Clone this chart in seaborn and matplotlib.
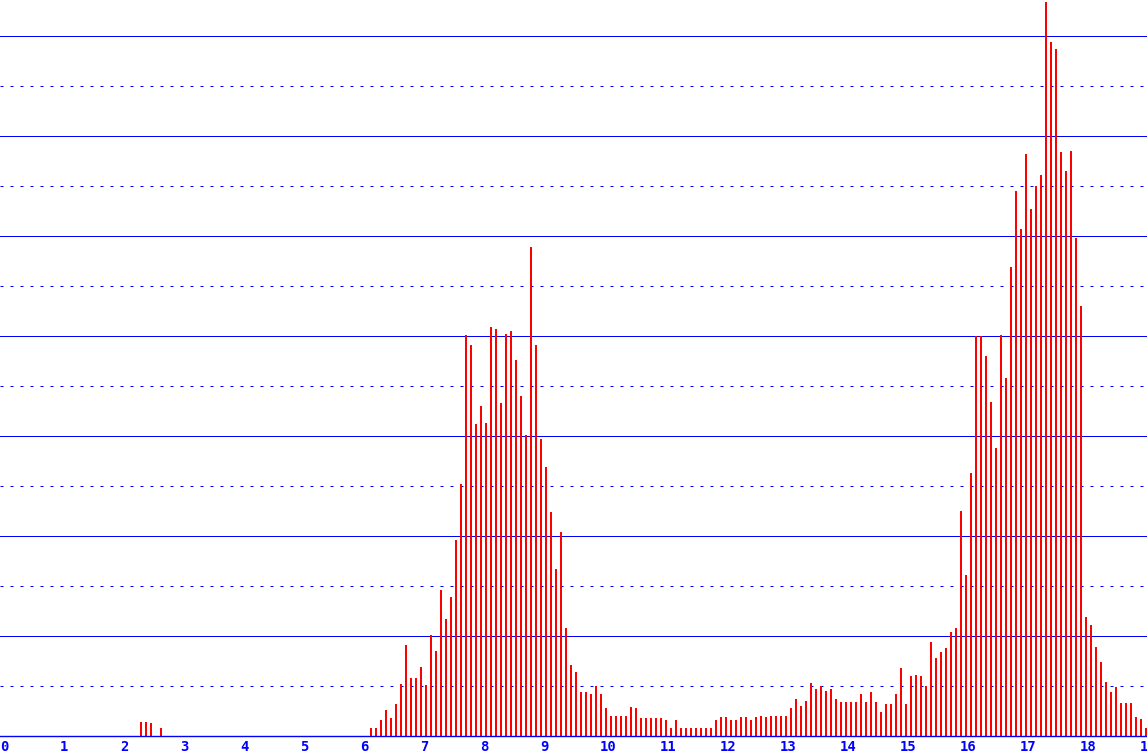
import numpy as np
import pandas as pd
import matplotlib
matplotlib.use("Agg")
import matplotlib.pyplot as plt
import seaborn as sns

# one bar per 5-minute slot, hours 0..19
SLOTS_PER_HOUR = 12
N_SLOTS = 19 * SLOTS_PER_HOUR + 1

# small cluster around 2:15
early_start = 27
early_counts = [0.28, 0.28, 0.26, 0.0, 0.17]

# the day from 6:05 onward
day_start = 73
day_counts = [
    0.16, 0.16, 0.32, 0.52, 0.36, 0.64, 1.04, 1.82, 1.16, 1.16, 1.38, 1.02,   # 6:05
    2.02, 1.70, 2.92, 2.34, 2.78, 3.92, 5.04, 8.02, 7.82, 6.24, 6.60, 6.26,   # 7:05
    8.18, 8.14, 6.66, 8.04, 8.10, 7.52, 6.80, 6.02, 9.79, 7.82, 5.94, 5.38,   # 8:05
    4.48, 3.34, 4.08, 2.16, 1.42, 1.28, 0.88, 0.88, 0.84, 1.00, 0.84, 0.56,   # 9:05
    0.40, 0.40, 0.40, 0.40, 0.58, 0.56, 0.36, 0.36, 0.36, 0.36, 0.36, 0.32,   # 10:05
    0.16, 0.32, 0.16, 0.16, 0.16, 0.16, 0.16, 0.16, 0.16, 0.32, 0.38, 0.38,   # 11:05
    0.32, 0.32, 0.38, 0.38, 0.32, 0.38, 0.40, 0.38, 0.40, 0.40, 0.40, 0.40,   # 12:05
    0.56, 0.74, 0.60, 0.70, 1.06, 0.94, 1.00, 0.90, 0.94, 0.74, 0.68, 0.68,   # 13:05
    0.68, 0.68, 0.84, 0.68, 0.88, 0.68, 0.48, 0.64, 0.64, 0.84, 1.36, 0.64,   # 14:05
    1.20, 1.22, 1.21, 1.00, 1.88, 1.56, 1.69, 1.76, 2.08, 2.16, 4.50, 3.22,   # 15:05
    5.27, 8.00, 8.00, 7.61, 6.69, 5.77, 8.02, 7.16, 9.39, 10.91, 10.14, 11.65,  # 16:05
    10.55, 11.00, 11.22, 14.69, 13.89, 13.75, 11.69, 11.30, 11.71, 9.96, 8.60, 2.38,  # 17:05
    2.23, 1.78, 1.49, 1.08, 0.89, 0.98, 0.67, 0.67, 0.67, 0.39, 0.35, 0.16,   # 18:05
]

hour_labels = [str(h) for h in range(20)]

counts = np.zeros(N_SLOTS)
counts[early_start:early_start + len(early_counts)] = early_counts
counts[day_start:day_start + len(day_counts)] = day_counts
df = pd.DataFrame({"hour": np.arange(N_SLOTS) / SLOTS_PER_HOUR, "count": counts})

blue = "#0000ff"
red = "#ff0000"

fig = plt.figure(figsize=(11.47, 7.56), dpi=100)
ax = fig.add_axes([0, 20 / 756, 1, 736 / 756])

sns.barplot(data=df, x="hour", y="count", native_scale=True, width=0.4,
            color=red, saturation=1, linewidth=0, errorbar=None, ax=ax)

ax.set_xlim(-0.1, -0.1 + 1147 / 60)
ax.set_ylim(0, 736 / 50)

# solid lines every 2 units, dotted ones in between (1 px wide)
ax.set_yticks(np.arange(0, 15, 2))
ax.set_yticks(np.arange(1, 15, 2), minor=True)
ax.set_yticklabels([])
ax.grid(axis="y", which="major", color=blue, linewidth=0.72, linestyle="-")
ax.grid(axis="y", which="minor", color=blue, linewidth=0.72, linestyle=(0, (3, 7)))
ax.grid(axis="x", visible=False)
ax.set_axisbelow(True)

ax.set_xticks(np.arange(20) - 0.1, hour_labels)
for lbl in ax.get_xticklabels():
    lbl.set_horizontalalignment("left")
    lbl.set_fontfamily("DejaVu Sans Mono")
    lbl.set_fontweight("bold")
    lbl.set_fontsize(10)
    lbl.set_color(blue)
ax.tick_params(axis="both", which="both", length=0)
ax.tick_params(axis="x", pad=3)
ax.set_xlabel("")
ax.set_ylabel("")

for side in ["top", "left", "right"]:
    ax.spines[side].set_visible(False)
ax.spines["bottom"].set_color(blue)
ax.spines["bottom"].set_linewidth(1)

fig.savefig("out.png", dpi=100)
